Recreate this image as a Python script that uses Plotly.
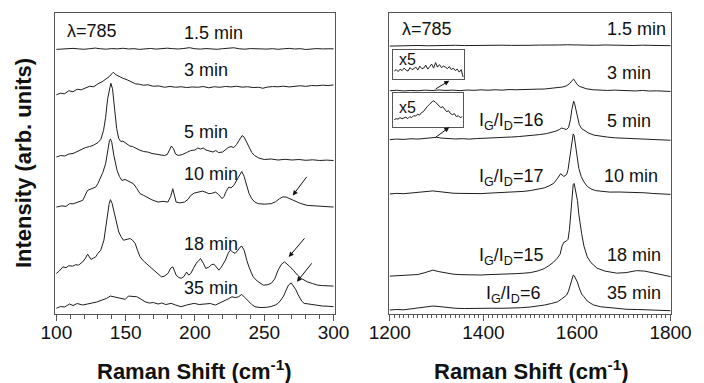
import plotly.graph_objects as go

# ---------------- Left panel (100-300 cm-1), intensities in arb. units ----------------
low_15_x = [100,104,108,112,116,120,124,128,132,136,140,144,148,152,156,160,164,168,172,176,180,184,188,192,196,200,204,208,212,216,220,224,228,232,236,240,244,248,252,256,260,264,268,272,276,280,284,288,292,296,300]
low_15_y = [265.5,266,265.8,266.5,266,265.6,266.2,266.8,266.1,265.7,266.3,266,266.6,265.9,266.2,265.5,266,266.4,265.8,266.1,266.7,266.2,265.9,266.4,267.2,266.1,265.8,266.3,266,265.6,266.2,266.5,267.1,266.1,265.7,266.3,266,266.4,265.8,266.2,265.6,266.1,266.5,265.9,266.2,265.4,265.9,266.3,266,265.7,266.1]

low_3_x = [100,103,106,109,112,115,118,121,124,127,130,133,136,138,140,141,143,145,148,151,154,157,160,163,166,170,174,178,182,186,190,194,198,202,206,210,214,218,222,226,230,234,238,242,246,249,252,256,260,264,268,272,276,280,284,288,292,296,300]
low_3_y = [220,221.5,221,224,223,225.5,225,227,228.5,228,231,233,236,238,241,242.5,240,238.5,236.5,235,233,231,230.5,229.5,230,228.5,228.8,227.5,228.3,227.5,228,227.2,227.8,227.5,228.2,227,228,227.5,228.3,227.8,228.5,227.6,228,227.2,227.5,226.5,227.6,228.2,228,228.6,227.8,228.2,229,228.4,229.2,229,229.6,229.2,229.8]

low_5_x = [100,103,106,109,112,115,118,121,124,127,130,132,134,135.5,137,138.5,139.3,140.5,142,143.5,145,146.5,148,149.5,151,153,155,157,160,163,166,169,172,175,178,180,181.5,183,184.5,186,188,191,194,197,200,202,204,206,208,210,213,215,217,220,222,224,226,228,230,232,234,235.5,237,239,241,243,246,250,255,260,265,270,275,280,285,290,295,300]
low_5_y = [157.5,159,158.5,160.5,161,163,164.5,167,168,169.5,172,175,184,197,216,229,231.5,226,206,186,176,173,173.5,172,171,168.5,168,166.5,164.5,163,162.5,161,160.5,159.5,159,160,164,168.5,166,160.5,159,160,162,164,164.5,166.5,165.5,166.5,164.5,163.5,162.5,164,162,162.5,165,167,168,167,170,175,179,177.5,173,167,162,159,156.5,155,155.5,154.5,155.2,154.5,155,154.2,154.7,154,154.4,154]

low_10_x = [100,104,107,109.5,112,115,117,119,121,122.5,125,128.4,130,132,133.5,135.5,137,138.3,139,140,141.5,143,143.8,145.5,147.3,149.5,152,155.6,158,160.4,163,166,169,173.4,177,180.5,182.5,184,185.3,186.4,189,192.4,195,197,199.5,202,205.4,208,210,212,214.8,217,219.6,221,222.5,224.4,226,228,230.3,232,233.8,235.5,237.4,239,241,243,245.7,250,255,258,261,263.5,265.8,268,271.7,276,281,285,290,295,300]
low_10_y = [107.3,108.5,108,110.7,110.5,112.5,113,114,119,124,125.5,127.3,131,137.3,142,150.7,164,174,175.7,172,159,148,144,138,134,135,133.3,130.7,126,120.7,119,116.7,114.5,112.3,113,112.3,118,125.7,119,112.3,111.5,112.3,115,119,121.3,122,123.3,122,120.7,121,122.3,120,115.7,118,123,127.3,126.5,129,134,139,143,138,127.3,121,115.7,112.5,110.7,110.2,110.7,112.5,115.7,117.5,117.3,115.8,113.3,111,109,108.5,108,107.8,107.3]

low_18_x = [100,102,104.7,107,109,111.8,114,116,119,121,122.5,124,125,126.5,128.4,130,132,134.3,135.5,136.7,138,139,140.2,141.4,143,145,146.5,148.5,151,153.3,155,156.9,158.5,160.4,163,166.3,169,172,175.8,178,180.5,182.5,184,185.3,186.4,188,190,192,194,195.5,197,199,201,203,204,206,207.8,210,212,213.7,215.5,217.3,219,220.5,222,224,225.5,227,229,231,232.5,233.8,235.5,237.4,239,242,245,249.3,252,255,257.5,260,262.5,264.6,266.5,268.2,271,274,277,281,285,288.3,292,296,300]
low_18_y = [40.7,43,47.3,46.5,48.5,48,49.5,49,52.3,56,60,57,54.7,56,57.3,61,64,74,84,97.3,110,114.7,111,104,92,82.3,78,74,75,75.7,74,70.7,64,57.3,53,49,46,42,37.3,38,40.7,46,47.3,43,39,37,35.7,37.5,42,39,40.7,46,51,54,55.7,51,45.7,47,49.5,50,47,44,47,50.5,54,61,64,62.5,60.7,64,67,68,64,54,47,37.3,33,29,29.2,30.7,35,44,50,52.3,50.5,48,44,39,35.5,32.3,30.5,29,28.5,28.3,28]

low_35_x = [100,103,106,109.5,112,115,119,122,126,129,133,136,139,142,145,147.5,149.7,152,155,158,161,164,167,170,173.4,176,179,182.8,186,190,194,199.5,203,207.8,211,214.8,218,222,224.5,226.7,229,231.5,233.8,236,238.6,241,243.3,247,251.6,255,258,260,262,264,265.8,267.5,269.4,271,273,274.2,275.3,277,278.8,282,285,288.3,292,296,300]
low_35_y = [5.7,7.5,7,10,8.5,10.5,9,10,10.7,12,14,15.5,18,17,16.7,15.5,14.7,18,17.5,17.3,15,12.3,11,11.5,10,11,9.5,10.7,9,7.3,9,10.7,9.5,10,10.5,9,11,13.3,15.5,17.3,16.5,17.3,19.7,16.5,12.3,9.5,7.3,6.5,6.7,7.5,9,10.7,14,18,24,29,31.3,28.5,24,20,16.7,13,10.7,10,9.5,9,8,7.8,7.3]

# ---------------- Right panel (1200-1800 cm-1) ----------------
high_15_x = [1200,1220,1240,1260,1280,1300,1320,1340,1360,1380,1400,1420,1440,1460,1480,1500,1520,1540,1560,1580,1600,1620,1640,1660,1680,1700,1720,1740,1760,1780,1800]
high_15_y = [268.8,269.2,268.9,269.4,269.1,269.5,269.2,269.6,269.3,269.5,269.8,269.4,269.7,269.5,269.9,269.6,269.8,269.5,269.9,270.1,269.7,270,269.6,269.9,269.5,269.8,269.4,269.7,269.3,269.5,269.2]

high_3_x = [1200,1215,1230,1245,1260,1275,1290,1305,1320,1335,1350,1365,1380,1395,1410,1425,1440,1455,1470,1485,1500,1515,1530,1545,1560,1570,1578,1585,1590,1593,1596,1600,1605,1612,1620,1635,1650,1665,1680,1695,1710,1725,1740,1755,1770,1785,1800]
high_3_y = [224,224.5,223.8,224.3,224,224.6,224.2,224.8,224.3,224.6,224.1,224.7,224.4,224.9,224.5,225,224.6,225.2,225,225.4,225.1,225.6,225.7,226.3,226.8,227.8,229,231.5,234.5,235.7,233.5,230.5,228.5,227,226,225,224.6,224.3,224.6,224.1,224.2,223.8,224.3,223.7,223.9,223.4,223.3]

high_5_x = [1200,1215,1230,1245,1260,1275,1290,1300,1310,1325,1340,1355,1370,1385,1400,1415,1430,1445,1460,1475,1490,1505,1520,1535,1545,1555,1562,1567,1572,1577,1582,1586,1589,1591,1593,1595,1598,1601,1605,1610,1616,1625,1636,1650,1665,1680,1700,1720,1740,1760,1780,1800]
high_5_y = [175,175.5,175.2,175.8,175.5,176.3,177,177.3,176.5,176,175.6,175.9,175.5,176,176.2,176.5,176.8,177.2,177.6,178,178.5,179.2,180,181,182,183.5,185,186.5,186,185,187,195,205,211,213.5,211,204,197,190,186,184,181.5,179.5,178.2,177.5,176.8,176.4,176,175.6,175.3,174.8,174.3]

high_10_x = [1200,1215,1230,1245,1260,1275,1292,1305,1320,1335,1350,1365,1380,1395,1410,1425,1440,1455,1470,1485,1500,1515,1530,1540,1550,1558,1565,1572,1578,1581,1584,1587,1590,1592,1594,1597,1600,1604,1609,1615,1622,1630,1640,1655,1670,1690,1710,1730,1745,1760,1780,1800]
high_10_y = [120.5,121,120.7,121.3,121.6,122.6,123.5,122.8,121.7,121.2,121,120.8,121.2,120.8,121.2,121.5,121.8,122.2,122.5,123,123.8,124.8,126.5,128.5,131,135.7,140.7,138,140,145,155,166,177,180.7,179,170,158,146,138,132.5,128,125.5,123.8,122.7,122.3,122.4,122.2,122.1,121.6,121,120.6,120]

high_18_x = [1200,1215,1230,1245,1260,1275,1292,1305,1320,1335,1350,1365,1380,1395,1410,1425,1440,1455,1470,1485,1500,1515,1530,1540,1550,1558,1564,1568,1572,1577,1581,1584,1587,1590,1592,1594,1596,1599,1601,1604,1607,1610,1615,1622,1630,1643,1660,1685,1705,1727,1745,1765,1785,1800]
high_18_y = [38,38.5,38.3,39,39.6,41.5,44,42.5,41,40,39.5,39.2,39.3,39.1,39.5,39.6,39.9,40.1,40.5,40.9,41.5,43,45.5,48.5,52,56,60,68,72,73,75,85,105,122,130,131,127,120,114,100,88,80.7,68,57.3,51.5,46,43,41,41.5,43.5,43,41,39,37.5]

high_35_x = [1200,1215,1230,1245,1260,1275,1292,1305,1320,1341,1360,1380,1400,1420,1440,1461,1480,1500,1515,1531,1545,1559,1567,1573,1578,1582,1586,1589,1592,1594,1597,1601,1605,1610,1615,1622,1630,1636,1650,1670,1690,1707,1730,1750,1775,1800]
high_35_y = [4,4.5,4.2,5,5.8,7,8,7.5,6.5,5.7,5.5,5.8,5.6,5.8,5.7,5.7,6.3,7,7.8,9,10.5,12.3,15,17.3,19,23,30,36,39,38.5,36,32,26,20,17.3,13,10.5,9,7.3,6.2,5.3,4.7,4.5,4.2,3.8,3.3]

# x5 insets (D-band region of 3 min and 5 min spectra)
inset_x = [1225,1230,1235,1240,1245,1250,1255,1260,1265,1270,1275,1280,1285,1290,1295,1300,1305,1310,1315,1320,1325,1330,1335,1340,1345,1350,1355,1360,1365,1370,1375,1380,1385,1390,1395,1400]
inset_3_y = [8,9.5,7.5,10,8.5,11,9,8,11.5,9.5,10.5,12,9,13,10.5,11,14,10,12.5,15,11,16.5,12,14.5,11.5,13,12,10.5,12.5,9.5,11,8.5,10,7,9.5,2]
inset_5_y = [7,8,7.5,9,8,8.5,9.5,8,10,9,11,10.5,12.5,11.5,14,15,18,20,22,24,26,25,23,21,19,20,17,15,16,13,12,13,10,11,9,10]

low_labels = ["1.5 min", "3 min", "5 min", "10 min", "18 min", "35 min"]
low_label_y = [282, 244.7, 183, 140.7, 70.7, 25.7]
high_label_y = [286, 242.3, 194, 138, 59, 20.7]
high_label_x = [1727, 1712, 1712, 1716, 1721, 1721]
ratio_labels = ["I<sub>G</sub>/I<sub>D</sub>=16", "I<sub>G</sub>/I<sub>D</sub>=17",
                "I<sub>G</sub>/I<sub>D</sub>=15", "I<sub>G</sub>/I<sub>D</sub>=6"]
ratio_x = [1458, 1458, 1458, 1463]
ratio_y = [193, 137, 58, 19.5]

FONT = "Liberation Sans, Arial, sans-serif"
LINE = "#1e1e1e"
AX = "#555555"

fig = go.Figure()
low = [(low_15_x, low_15_y), (low_3_x, low_3_y), (low_5_x, low_5_y),
       (low_10_x, low_10_y), (low_18_x, low_18_y), (low_35_x, low_35_y)]
high = [(high_15_x, high_15_y), (high_3_x, high_3_y), (high_5_x, high_5_y),
        (high_10_x, high_10_y), (high_18_x, high_18_y), (high_35_x, high_35_y)]
for xs, ys in low:
    fig.add_trace(go.Scatter(x=xs, y=ys, mode="lines", line=dict(color=LINE, width=1),
                             xaxis="x", yaxis="y", showlegend=False))
for xs, ys in high:
    fig.add_trace(go.Scatter(x=xs, y=ys, mode="lines", line=dict(color=LINE, width=1),
                             xaxis="x2", yaxis="y2", showlegend=False))
fig.add_trace(go.Scatter(x=inset_x, y=inset_3_y, mode="lines", line=dict(color=LINE, width=1),
                         xaxis="x3", yaxis="y3", showlegend=False))
fig.add_trace(go.Scatter(x=inset_x, y=inset_5_y, mode="lines", line=dict(color=LINE, width=1),
                         xaxis="x4", yaxis="y4", showlegend=False))

tickfont = dict(family=FONT, size=19, color="#111")
common_x = dict(showline=True, mirror=True, linecolor=AX, linewidth=1, showgrid=False,
                zeroline=False, ticks="outside", ticklen=6, tickcolor=AX, tickfont=tickfont,
                ticklabelstandoff=-5)
common_y = dict(showline=True, mirror=True, linecolor=AX, linewidth=1, showgrid=False,
                zeroline=False, showticklabels=False, ticks="", range=[0, 302])
inset_ax = dict(showline=True, mirror=True, linecolor=AX, linewidth=1, showgrid=False,
                zeroline=False, showticklabels=False, ticks="")

fig.update_layout(
    width=704, height=383, margin=dict(l=55, r=24, t=12, b=69),
    paper_bgcolor="white", plot_bgcolor="white",
    xaxis=dict(domain=[0, 0.4544], range=[99, 301], dtick=50, tick0=100, anchor="y",
               minor=dict(dtick=10, tick0=100, ticks="outside", ticklen=4, tickcolor=AX), **common_x),
    yaxis=dict(domain=[0, 1], anchor="x", **common_y),
    xaxis2=dict(domain=[0.542, 1.0], range=[1198, 1801], dtick=200, tick0=1200, anchor="y2",
                minor=dict(dtick=10, tick0=1200, ticks="outside", ticklen=3, tickcolor=AX), **common_x),
    yaxis2=dict(domain=[0, 1], anchor="x2", **common_y),
    xaxis3=dict(domain=[0.5488, 0.6645], range=[1222, 1403], anchor="y3", **inset_ax),
    yaxis3=dict(domain=[0.7805, 0.8765], range=[0, 29], anchor="x3", **inset_ax),
    xaxis4=dict(domain=[0.5488, 0.6629], range=[1222, 1403], anchor="y4", **inset_ax),
    yaxis4=dict(domain=[0.6225, 0.7328], range=[0, 33.3], anchor="x4", **inset_ax),
)

ann = []
lab_font = dict(family=FONT, size=18, color="#111")
ann.append(dict(x=106, y=284, xref="x", yref="y", text="λ=785", showarrow=False,
                xanchor="left", yanchor="middle", font=lab_font))
ann.append(dict(x=1222, y=286, xref="x2", yref="y2", text="λ=785", showarrow=False,
                xanchor="left", yanchor="middle", font=lab_font))
for t, yv in zip(low_labels, low_label_y):
    ann.append(dict(x=190.7, y=yv, xref="x", yref="y", text=t, showarrow=False,
                    xanchor="left", yanchor="middle", font=lab_font))
for t, xv, yv in zip(low_labels, high_label_x, high_label_y):
    ann.append(dict(x=xv, y=yv, xref="x2", yref="y2", text=t, showarrow=False,
                    xanchor="center", yanchor="middle", font=lab_font))
for t, xv, yv in zip(ratio_labels, ratio_x, ratio_y):
    ann.append(dict(x=xv, y=yv, xref="x2", yref="y2", text=t, showarrow=False,
                    xanchor="center", yanchor="middle", font=lab_font))
# x5 labels
for yp in [0.8467, 0.6864]:
    ann.append(dict(x=0.5547, y=yp, xref="paper", yref="paper", text="x5", showarrow=False,
                    xanchor="left", yanchor="middle", font=dict(family=FONT, size=16, color="#111")))
# arrows
arrow_style = dict(showarrow=True, arrowhead=2, arrowsize=1, arrowwidth=1, arrowcolor="#111", text="")
ann.append(dict(x=270.6, y=119, xref="x", yref="y", ax=15, ay=-20, **arrow_style))
ann.append(dict(x=267.7, y=57.3, xref="x", yref="y", ax=17, ay=-20, **arrow_style))
ann.append(dict(x=273.6, y=32.3, xref="x", yref="y", ax=16, ay=-20, **arrow_style))
ann.append(dict(x=1327, y=234, xref="x2", yref="y2", ax=-15, ay=9, **arrow_style))
ann.append(dict(x=1327, y=187.3, xref="x2", yref="y2", ax=-15, ay=11, **arrow_style))

# axis titles
title_font = dict(family=FONT, size=22, color="#111")
ann.append(dict(x=0.2272, y=-0.1854, xref="paper", yref="paper", showarrow=False,
                text="<b>Raman Shift (cm<sup>-1</sup>)</b>", xanchor="center", yanchor="middle", font=title_font))
ann.append(dict(x=0.7728, y=-0.1854, xref="paper", yref="paper", showarrow=False,
                text="<b>Raman Shift (cm<sup>-1</sup>)</b>", xanchor="center", yanchor="middle", font=title_font))
ann.append(dict(x=-0.0512, y=0.503, xref="paper", yref="paper", showarrow=False, textangle=-90,
                text="<b>Intensity (arb. units)</b>", xanchor="center", yanchor="middle", font=title_font))
fig.update_layout(annotations=ann)

fig.write_html("out.html", config={"displayModeBar": False},
               post_script="document.body.style.margin='0';document.body.style.overflow='hidden';")
